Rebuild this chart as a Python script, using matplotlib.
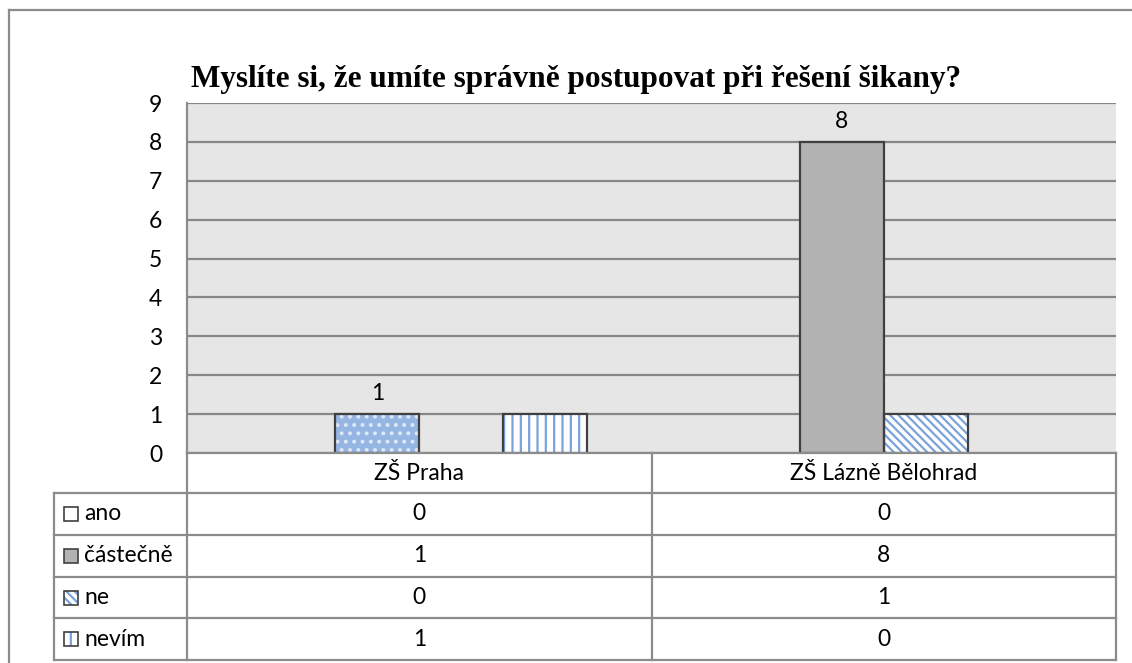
import matplotlib
matplotlib.use("Agg")
import matplotlib.pyplot as plt
from matplotlib.lines import Line2D
from matplotlib.patches import Rectangle

# data
categories = ["ZŠ Praha", "ZŠ Lázně Bělohrad"]
series = ["ano", "částečně", "ne", "nevím"]
ano = [0, 0]
castecne = [1, 8]
ne = [0, 1]
nevim = [1, 0]
values = [ano, castecne, ne, nevim]
yticks = list(range(0, 10))
title = "Myslíte si, že umíte správně postupovat při řešení šikany?"

W, H = 1132, 663
plt.rcParams["font.family"] = ["Lato", "DejaVu Sans"]
plt.rcParams["hatch.linewidth"] = 1.6
FS = 16.5

fig = plt.figure(figsize=(W / 100, H / 100), dpi=100)


def fx(px):
    return px / W


def fy(py):
    return 1 - py / H


# plot area in pixels
L, R, T, B = 187, 1116, 103, 453
ax = fig.add_axes([fx(L), fy(B), fx(R - L), (B - T) / H])
ax.set_facecolor("#e6e6e6")
ax.set_xlim(-0.5, 1.5)
ax.set_ylim(0, 9)
ax.set_yticks(yticks)
ax.set_xticks([])
ax.tick_params(axis="y", length=0, pad=18, labelsize=FS)
ax.yaxis.grid(True, color="#878787", lw=1.6)
ax.set_axisbelow(True)
for s in ["top", "right", "bottom"]:
    ax.spines[s].set_visible(False)
ax.spines["left"].set_color("#8c8c8c")
ax.spines["left"].set_linewidth(1.6)

blue = "#7aa3dc"
styles = [
    dict(face="white", hatch=None, hcol=blue),
    dict(face="#b2b2b2", hatch=None, hcol="#b2b2b2"),
    dict(face="white", hatch="\\\\\\\\", hcol=blue),
    dict(face="white", hatch="||", hcol=blue),
]
width = 84 / (R - L) * 2
offsets = [-1.5, -0.5, 0.5, 1.5]
x = list(range(len(categories)))

for i, (name, vals) in enumerate(zip(series, values)):
    st = styles[i]
    xs = [xi + offsets[i] * width for xi in x]
    for j, (xx, v) in enumerate(zip(xs, vals)):
        if v == 0:
            continue
        face, hatch, hcol = st["face"], st["hatch"], st["hcol"]
        # individually formatted point (Praha, částečně)
        if i == 1 and j == 0:
            face, hatch, hcol = "#95b6e3", "..", "#dfe8f6"
        ax.bar(xx, v, width, color=face, edgecolor=hcol, hatch=hatch, lw=0, zorder=2)
        ax.bar(xx, v, width, fill=False, edgecolor="#404040", lw=1.6, zorder=3)
        if i == 1:
            ax.annotate(str(v), (xx, v), xytext=(0, 7), textcoords="offset points",
                        ha="center", va="bottom", fontsize=FS)

# title
fig.text(fx(576), fy(80), title, ha="center", va="center", fontsize=22.5,
         fontweight="bold", family="Liberation Serif")

# outer chart border
lc = "#8c8c8c"
fig.add_artist(Line2D([fx(9), fx(W)], [fy(10), fy(10)], color=lc, lw=1.6))
fig.add_artist(Line2D([fx(9), fx(9)], [fy(10), fy(H)], color=lc, lw=1.6))

# data table
rows = [453, 493, 535, 577, 618, 660]
mid = (L + R) / 2
lab_l = 54
fig.add_artist(Line2D([fx(L), fx(L)], [fy(B), fy(rows[-1])], color=lc, lw=1.6))
fig.add_artist(Line2D([fx(R), fx(R)], [fy(B), fy(rows[-1])], color=lc, lw=1.6))
fig.add_artist(Line2D([fx(mid), fx(mid)], [fy(B), fy(rows[-1])], color=lc, lw=1.6))
fig.add_artist(Line2D([fx(lab_l), fx(lab_l)], [fy(rows[1]), fy(rows[-1])], color=lc, lw=1.6))
fig.add_artist(Line2D([fx(L), fx(R)], [fy(rows[0]), fy(rows[0])], color=lc, lw=1.6))
for r in rows[1:]:
    fig.add_artist(Line2D([fx(lab_l), fx(R)], [fy(r), fy(r)], color=lc, lw=1.6))

col_centers = [(L + mid) / 2, (mid + R) / 2]
for c, name in zip(col_centers, categories):
    fig.text(fx(c), fy((rows[0] + rows[1]) / 2), name, ha="center", va="center", fontsize=FS)

for i, (name, vals) in enumerate(zip(series, values)):
    yc = (rows[i + 1] + rows[i + 2]) / 2
    st = styles[i]
    key = Rectangle((fx(64), fy(yc + 7)), fx(14), 14 / H, transform=fig.transFigure,
                    facecolor=st["face"], edgecolor=st["hcol"], hatch=st["hatch"], lw=0)
    fig.add_artist(key)
    fig.add_artist(Rectangle((fx(64), fy(yc + 7)), fx(14), 14 / H, transform=fig.transFigure,
                             fill=False, edgecolor="#404040", lw=1.2))
    fig.text(fx(84), fy(yc), name, ha="left", va="center", fontsize=FS)
    for c, v in zip(col_centers, vals):
        fig.text(fx(c), fy(yc), str(v), ha="center", va="center", fontsize=FS)

fig.savefig("out.png", dpi=100)
